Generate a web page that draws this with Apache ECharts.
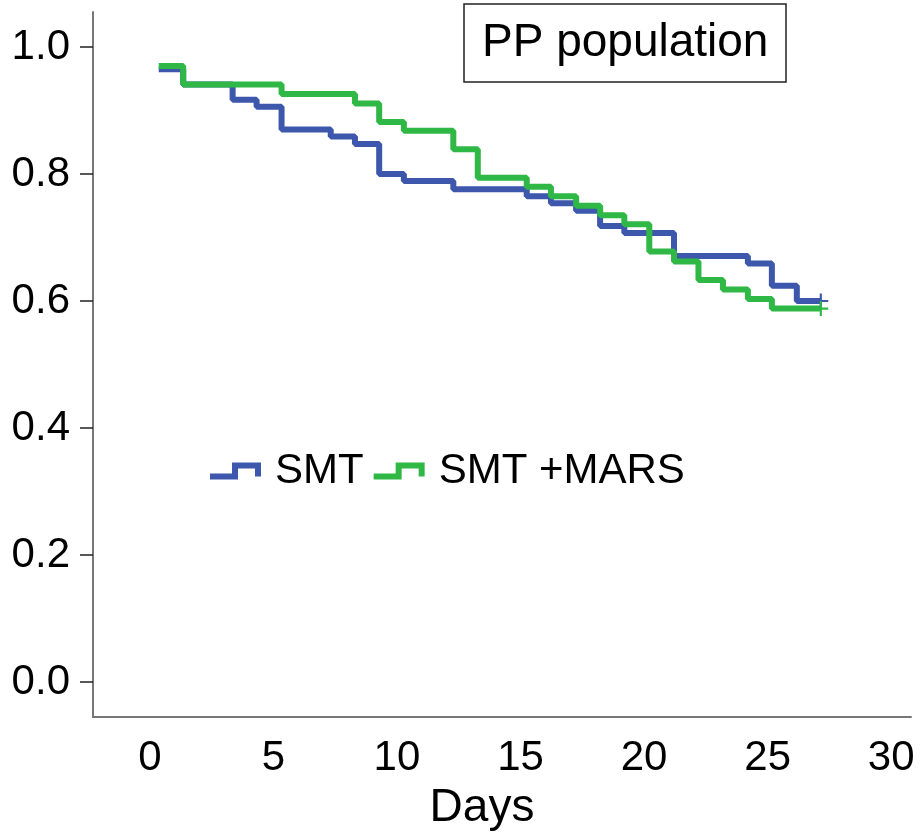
<!DOCTYPE html>
<html>
<head>
<meta charset="utf-8">
<title>PP population</title>
<script src="https://cdn.jsdelivr.net/npm/echarts@6/dist/echarts.min.js"></script>
<style>
  html, body { margin: 0; padding: 0; background: #fff; }
  #chart { width: 922px; height: 836px; }
</style>
</head>
<body>
<div id="chart"></div>
<script>
// survival curves: [day, proportion]
const smtData = [
  [0.36, 0.965], [1.35, 0.941], [3.35, 0.917], [4.32, 0.906], [5.33, 0.870],
  [7.32, 0.859], [8.30, 0.847], [9.28, 0.800], [10.28, 0.789], [12.28, 0.776],
  [15.25, 0.765], [16.23, 0.754], [17.25, 0.742], [18.22, 0.718], [19.20, 0.707],
  [21.21, 0.671], [24.20, 0.659], [25.17, 0.624], [26.18, 0.600], [27.15, 0.600]
]
const marsData = [
  [0.36, 0.970], [1.35, 0.941], [5.33, 0.926], [8.30, 0.911], [9.28, 0.882],
  [10.28, 0.868], [12.28, 0.839], [13.27, 0.794], [15.25, 0.780], [16.23, 0.765],
  [17.25, 0.750], [18.22, 0.735], [19.20, 0.721], [20.21, 0.678], [21.21, 0.662],
  [22.20, 0.633], [23.19, 0.618], [24.20, 0.603], [25.17, 0.588], [27.15, 0.588]
]
const xTicks = [0, 5, 10, 15, 20, 25, 30]
const yTicks = [0, 0.2, 0.4, 0.6, 0.8, 1.0]
const seriesNames = ['SMT', 'SMT +MARS']

const FONT = 'Liberation Sans, Arial, sans-serif'
const BLUE = '#3d57ad'
const GREEN = '#2fb846'
// censored mark "+"
const PLUS = 'path://M0,6H14V8H0Z M6,0H8V14H6Z'
// step shaped legend icon
const STEP_ICON = 'path://M0,11L22,11L22,0L51,0L51,14L45,14L45,6L28,6L28,17L0,17Z'

function withCensor(data) {
  const out = data.map(d => ({ value: d, symbol: 'none' }))
  // last point gets the censor tick
  out[out.length - 1] = { value: data[data.length - 1], symbol: PLUS, symbolSize: 15 }
  return out
}

const chart = echarts.init(document.getElementById('chart'))

chart.setOption({
  animation: false,
  title: {
    text: 'PP population',
    left: 464,
    top: 4,
    padding: [14, 18, 14, 18],
    borderColor: '#222',
    borderWidth: 1.5,
    textStyle: {
      fontFamily: FONT,
      fontSize: 46,
      fontWeight: 'normal',
      color: '#000',
      lineHeight: 50
    }
  },
  legend: {
    data: seriesNames.map(n => ({ name: n, icon: STEP_ICON })),
    left: 205,
    top: 445,
    itemWidth: 51,
    itemHeight: 17,
    itemGap: 10,
    textStyle: {
      fontFamily: FONT,
      fontSize: 42,
      color: '#000',
      padding: [0, 0, 0, 9]
    }
  },
  grid: {
    left: 93,
    right: 11,
    top: 12,
    bottom: 119,
    outerBoundsMode: 'none'
  },
  xAxis: {
    type: 'value',
    min: -2.3,
    max: 30.8,
    name: 'Days',
    nameLocation: 'middle',
    nameGap: 68,
    nameTextStyle: {
      fontFamily: FONT,
      fontSize: 46,
      color: '#000',
      padding: [0, 40, 0, 0]
    },
    axisLine: {
      onZero: false,
      lineStyle: { color: '#777', width: 2 }
    },
    axisTick: { show: false },
    splitLine: { show: false },
    axisLabel: {
      customValues: xTicks,
      margin: 20,
      fontFamily: FONT,
      fontSize: 42,
      color: '#000'
    }
  },
  yAxis: {
    type: 'value',
    min: -0.055,
    max: 1.055,
    axisLine: {
      onZero: false,
      lineStyle: { color: '#777', width: 2 }
    },
    axisTick: {
      customValues: yTicks,
      length: 13,
      lineStyle: { color: '#222', width: 1.5 }
    },
    splitLine: { show: false },
    axisLabel: {
      customValues: yTicks,
      margin: 23,
      fontFamily: FONT,
      fontSize: 42,
      color: '#000',
      formatter: v => v.toFixed(1)
    }
  },
  series: [
    {
      name: seriesNames[0],
      type: 'line',
      step: 'end',
      data: withCensor(smtData),
      showSymbol: true,
      color: BLUE,
      lineStyle: { width: 6, color: BLUE },
      itemStyle: { color: BLUE }
    },
    {
      name: seriesNames[1],
      type: 'line',
      step: 'end',
      data: withCensor(marsData),
      showSymbol: true,
      color: GREEN,
      lineStyle: { width: 6, color: GREEN },
      itemStyle: { color: GREEN }
    }
  ]
})
</script>
</body>
</html>
